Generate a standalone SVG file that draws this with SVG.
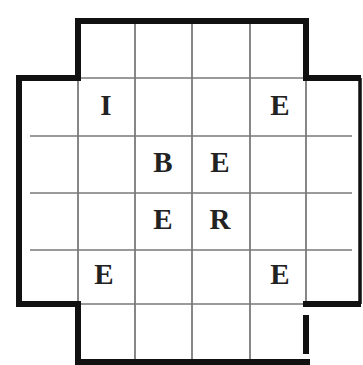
<svg xmlns="http://www.w3.org/2000/svg" width="363" height="365" viewBox="0 0 363 365">
<style>
.grid{stroke:#6a6a6a;stroke-width:1.6;fill:none}
.hgrid{stroke:#7a7a7a;stroke-width:1.4;fill:none}
.wall{stroke:#111;stroke-width:6;fill:none;stroke-linecap:square}
.lt{font-family:"Liberation Serif",serif;font-weight:bold;font-size:29px;fill:#222;text-anchor:middle}
</style>
<rect width="363" height="365" fill="#fff"/>
<g id="grid">
<path class="grid" d="M135,21V362M192,21V362M250,21V362M78,78V304M306,78V304"/>
<path class="hgrid" d="M30,136H352M30,193H352M30,250H352M78,78H306M78,304H306"/>
</g>
<g id="walls">
<path class="wall" d="M78,78V21H306V78"/>
<path class="wall" d="M19,78H78M306,78H358"/>
<path class="wall" d="M19,78V304H78V362H307"/>
<path class="wall" d="M306,304H358"/>
<path d="M360,78V304" stroke="#111" stroke-width="3.5" fill="none"/>
<path class="wall" d="M306,318V351"/>
</g>
<g id="letters">
<text class="lt" x="106" y="115">I</text>
<text class="lt" x="280" y="115">E</text>
<text class="lt" x="163" y="172">B</text>
<text class="lt" x="220" y="172">E</text>
<text class="lt" x="163" y="229">E</text>
<text class="lt" x="220" y="229">R</text>
<text class="lt" x="104" y="284">E</text>
<text class="lt" x="280" y="284">E</text>
</g>
</svg>
